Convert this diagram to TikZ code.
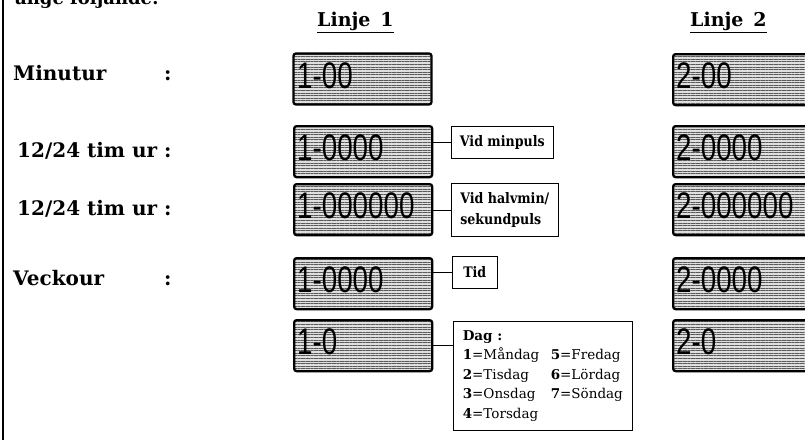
\documentclass[tikz,border=0pt]{standalone}
\usepackage{graphicx}
\usepackage{fontspec}
\setmainfont{DejaVu Serif}
\newfontfamily\lsans{Liberation Sans}
\usetikzlibrary{patterns.meta}
\newcommand{\digtext}[1]{\scalebox{0.75}[1]{\lsans\fontsize{37}{37}\selectfont #1}}
\newcommand{\calltext}[1]{\scalebox{0.87}[1]{\bfseries\fontsize{14.5}{20.5}\selectfont #1}}
\begin{document}
\begin{tikzpicture}[x=1pt,y=-1pt,
  disp/.style={draw, line width=2.3pt, rounded corners=2.5pt, minimum width=138pt,
    minimum height=51pt, anchor=north west, inner sep=0pt,
    preaction={fill=gray!25},
    pattern={Lines[angle=0,distance=2.6pt,line width=1pt]}, pattern color=gray!70!black},
  dig/.style={anchor=base west, inner sep=0pt},
  lab/.style={anchor=base west, inner sep=0pt, font=\bfseries\fontsize{20}{24}\selectfont},
  ttl/.style={anchor=base west, inner sep=0pt, font=\bfseries\fontsize{19}{23}\selectfont},
  call/.style={draw, line width=0.6pt, anchor=north west, inner sep=0pt, align=left,
    font=\fontsize{14.5}{21}\selectfont},
  conn/.style={line width=0.6pt}
]
\useasboundingbox (0,0) rectangle (805,439);
\clip (0,0) rectangle (805,439);

% left border line
\draw[line width=2pt] (3,-5) coordinate (bt) -- (3,445) coordinate (bb);

% heading, cut by the top edge as in the reference
\node[anchor=base west, inner sep=0pt, font=\bfseries\fontsize{18}{22}\selectfont] (head) at (15,5) {ange följande:};

% titles
\node[ttl] (t1) at (317,27) {\underline{Linje\ \,1}};
\node[ttl] (t2) at (690,27) {\underline{Linje\ \,2}};

% left labels
\node[lab] (l1) at (13,80) {Minutur};
\node[lab] (l2) at (17,157) {12/24 tim ur};
\node[lab] (l3) at (17,215) {12/24 tim ur};
\node[lab] (l4) at (13,285) {Veckour};
\node[lab] (k1) at (164,80) {:};
\node[lab] (k2) at (164,157) {:};
\node[lab] (k3) at (164,215) {:};
\node[lab] (k4) at (164,285) {:};

% Linje 1 displays
\node[disp] (a1) at (293,53) {};
\node[disp] (a2) at (293,125) {};
\node[disp] (a3) at (293,183) {};
\node[disp] (a4) at (293,257) {};
\node[disp] (a5) at (293,319) {};
\node[dig] (da1) at (297,88) {\digtext{1-00}};
\node[dig] (da2) at (297,160) {\digtext{1-0000}};
\node[dig] (da3) at (297,218) {\digtext{1-000000}};
\node[dig] (da4) at (297,292) {\digtext{1-0000}};
\node[dig] (da5) at (297,354) {\digtext{1-0}};

% Linje 2 displays
\node[disp] (b1) at (672,53) {};
\node[disp] (b2) at (672,125) {};
\node[disp] (b3) at (672,183) {};
\node[disp] (b4) at (672,257) {};
\node[disp] (b5) at (672,319) {};
\node[dig] (db1) at (676,88) {\digtext{2-00}};
\node[dig] (db2) at (676,160) {\digtext{2-0000}};
\node[dig] (db3) at (676,218) {\digtext{2-000000}};
\node[dig] (db4) at (676,292) {\digtext{2-0000}};
\node[dig] (db5) at (676,354) {\digtext{2-0}};

% callouts
\node[call, minimum width=102pt, minimum height=32pt] (c2) at (451,126) {\calltext{Vid minpuls}};
\node[call, minimum width=107pt, minimum height=53pt] (c3) at (451,183)
  {\calltext{Vid halvmin/}\\\calltext{sekundpuls}};
\node[call, minimum width=45pt, minimum height=32pt] (c4) at (452,256) {\calltext{Tid}};
\node[draw, line width=0.6pt, anchor=north west, inner sep=0pt, align=left,
  minimum width=179pt, minimum height=109pt,
  font=\fontsize{13.5}{19.5}\selectfont] (c5) at (453,321)
  {\textbf{Dag :}\\
   \makebox[88pt][l]{\textbf{1}=Måndag}\textbf{5}=Fredag\\
   \makebox[88pt][l]{\textbf{2}=Tisdag}\textbf{6}=Lördag\\
   \makebox[88pt][l]{\textbf{3}=Onsdag}\textbf{7}=Söndag\\
   \makebox[88pt][l]{\textbf{4}=Torsdag}\hphantom{\textbf{7}=Söndag}};

% connectors
\draw[conn] (c2.west) -- (c2.west -| a2.east);
\draw[conn] (c3.west) -- (c3.west -| a3.east);
\draw[conn] (c4.west) -- (c4.west -| a4.east);
\draw[conn] (a5.east) -- (a5.east -| c5.west);
\end{tikzpicture}
\end{document}
